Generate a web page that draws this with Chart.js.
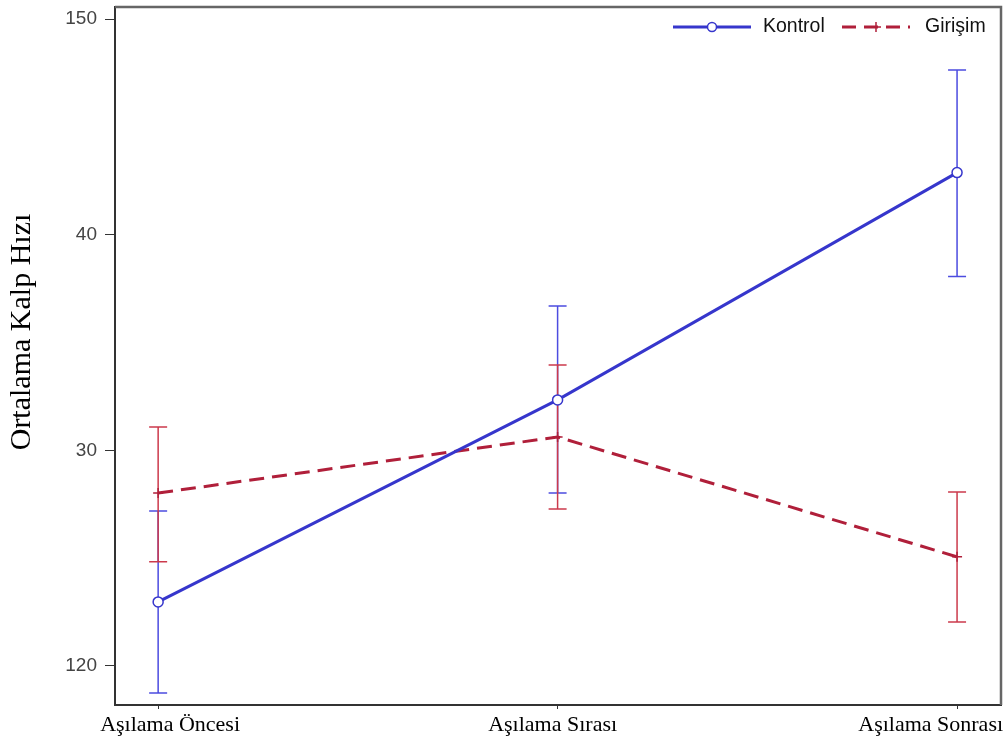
<!DOCTYPE html>
<html>
<head>
<meta charset="utf-8">
<script src="https://cdn.jsdelivr.net/npm/chart.js@4"></script>
<style>
  html, body { margin: 0; padding: 0; background: #fff; }
  #wrap { width: 1008px; height: 742px; }
</style>
</head>
<body>
<div id="wrap"><canvas id="c"></canvas></div>
<script>
// categories and tick labels
var categories = ["Aşılama Öncesi", "Aşılama Sırası", "Aşılama Sonrası"];
var yTickValues = [120, 130, 140, 150];
var yTickLabels = ["120", "30", "40", "150"];

// series means and error bar limits
var kontrolMean = [122.97, 132.34, 142.88];
var kontrolLow  = [118.75, 128.02, 138.06];
var kontrolHigh = [127.19, 136.69, 147.64];

var girisimMean = [128.02, 130.62, 125.06];
var girisimLow  = [124.83, 127.28, 122.04];
var girisimHigh = [131.08, 133.96, 128.07];

var BLUE = "#3636cc";
var BLUE_ERR = "#4c4ce0";
var RED = "#b01f3a";
var RED_ERR = "#cc3a4c";

function pts(arr) {
  return arr.map(function (v, i) { return { x: i, y: v }; });
}

// error bars, frame, axis texts and legend
var extras = {
  id: "extras",
  beforeDatasetsDraw: function (chart) {
    var ctx = chart.ctx, xs = chart.scales.x, ys = chart.scales.y;
    var sets = [
      { lo: kontrolLow, hi: kontrolHigh, c: BLUE_ERR },
      { lo: girisimLow, hi: girisimHigh, c: RED_ERR }
    ];
    ctx.save();
    sets.forEach(function (s) {
      ctx.strokeStyle = s.c;
      ctx.lineWidth = 1.5;
      for (var i = 0; i < s.lo.length; i++) {
        var x = xs.getPixelForValue(i);
        var y1 = ys.getPixelForValue(s.lo[i]);
        var y2 = ys.getPixelForValue(s.hi[i]);
        ctx.beginPath();
        ctx.moveTo(x, y1); ctx.lineTo(x, y2);
        ctx.moveTo(x - 9, y1); ctx.lineTo(x + 9, y1);
        ctx.moveTo(x - 9, y2); ctx.lineTo(x + 9, y2);
        ctx.stroke();
      }
    });
    ctx.restore();
  },
  afterDraw: function (chart) {
    var ctx = chart.ctx, a = chart.chartArea, xs = chart.scales.x;
    ctx.save();
    // frame top and right
    ctx.strokeStyle = "#666";
    ctx.lineWidth = 2.5;
    ctx.beginPath();
    ctx.moveTo(a.left, a.top); ctx.lineTo(a.right, a.top); ctx.lineTo(a.right, a.bottom);
    ctx.stroke();

    // x category labels, kept inside the page like the original
    ctx.fillStyle = "#000";
    ctx.font = "22px 'Liberation Serif'";
    ctx.textBaseline = "alphabetic";
    var aligns = ["left", "center", "right"];
    var shifts = [-58, -5, 46];
    categories.forEach(function (c, i) {
      ctx.textAlign = aligns[i];
      ctx.fillText(c, xs.getPixelForValue(i) + shifts[i], 731);
    });

    // y title
    ctx.font = "30px 'Liberation Serif'";
    ctx.textAlign = "center";
    ctx.textBaseline = "middle";
    ctx.translate(22, 332);
    ctx.rotate(-Math.PI / 2);
    ctx.fillText("Ortalama Kalp Hızı", 0, 0);
    ctx.restore();

    // legend
    ctx.save();
    var ly = 27;
    ctx.lineWidth = 3;
    ctx.strokeStyle = BLUE;
    ctx.beginPath(); ctx.moveTo(673, ly); ctx.lineTo(751, ly); ctx.stroke();
    ctx.lineWidth = 1.5;
    ctx.fillStyle = "#fff";
    ctx.beginPath(); ctx.arc(712, ly, 4.5, 0, Math.PI * 2); ctx.fill(); ctx.stroke();
    ctx.strokeStyle = RED;
    ctx.lineWidth = 3;
    ctx.setLineDash([14, 8]);
    ctx.beginPath(); ctx.moveTo(842, ly); ctx.lineTo(910, ly); ctx.stroke();
    ctx.setLineDash([]);
    ctx.lineWidth = 1.5;
    ctx.beginPath();
    ctx.moveTo(876, ly - 5); ctx.lineTo(876, ly + 5);
    ctx.moveTo(871, ly); ctx.lineTo(881, ly);
    ctx.stroke();
    ctx.fillStyle = "#111";
    ctx.font = "19.5px 'Liberation Sans'";
    ctx.textBaseline = "middle";
    ctx.textAlign = "left";
    ctx.fillText("Kontrol", 763, ly);
    ctx.fillText("Girişim", 925, ly);
    ctx.restore();
  }
};

new Chart(document.getElementById("c"), {
  type: "line",
  data: {
    datasets: [
      {
        label: "Kontrol",
        data: pts(kontrolMean),
        borderColor: BLUE,
        borderWidth: 3,
        pointStyle: "circle",
        pointRadius: 5,
        pointBorderWidth: 1.5,
        pointBackgroundColor: "#fff",
        pointBorderColor: BLUE,
        tension: 0
      },
      {
        label: "Girişim",
        data: pts(girisimMean),
        borderColor: RED,
        borderWidth: 3,
        borderDash: [15, 8],
        pointStyle: "cross",
        pointRadius: 5,
        pointBorderWidth: 1.5,
        pointBorderColor: RED,
        tension: 0
      }
    ]
  },
  options: {
    responsive: true,
    maintainAspectRatio: false,
    animation: false,
    layout: { padding: { top: 7, right: 7, left: 0, bottom: 0 } },
    plugins: { legend: { display: false }, tooltip: { enabled: false } },
    scales: {
      x: {
        type: "linear",
        min: -0.108,
        max: 2.11,
        afterBuildTicks: function (s) { s.ticks = categories.map(function (c, i) { return { value: i }; }); },
        afterFit: function (s) {
          s.height = 37;
          s.paddingLeft = 0; s.paddingRight = 0;
        },
        ticks: { display: false },
        grid: { display: true, drawOnChartArea: false, drawTicks: true, tickLength: 4, color: "#333" },
        border: { color: "#333", width: 2 }
      },
      y: {
        min: 118.19,
        max: 150.56,
        afterBuildTicks: function (s) { s.ticks = yTickValues.map(function (v) { return { value: v }; }); },
        afterFit: function (s) {
          s.width = 115;
          s.paddingTop = 0; s.paddingBottom = 0;
        },
        ticks: {
          callback: function (v) { return yTickLabels[yTickValues.indexOf(v)]; },
          font: { family: "Liberation Sans", size: 19 },
          color: "#444",
          padding: 8
        },
        grid: { display: true, drawOnChartArea: false, drawTicks: true, tickLength: 10, color: "#333" },
        border: { color: "#333", width: 2 }
      }
    }
  },
  plugins: [extras]
});
</script>
</body>
</html>
